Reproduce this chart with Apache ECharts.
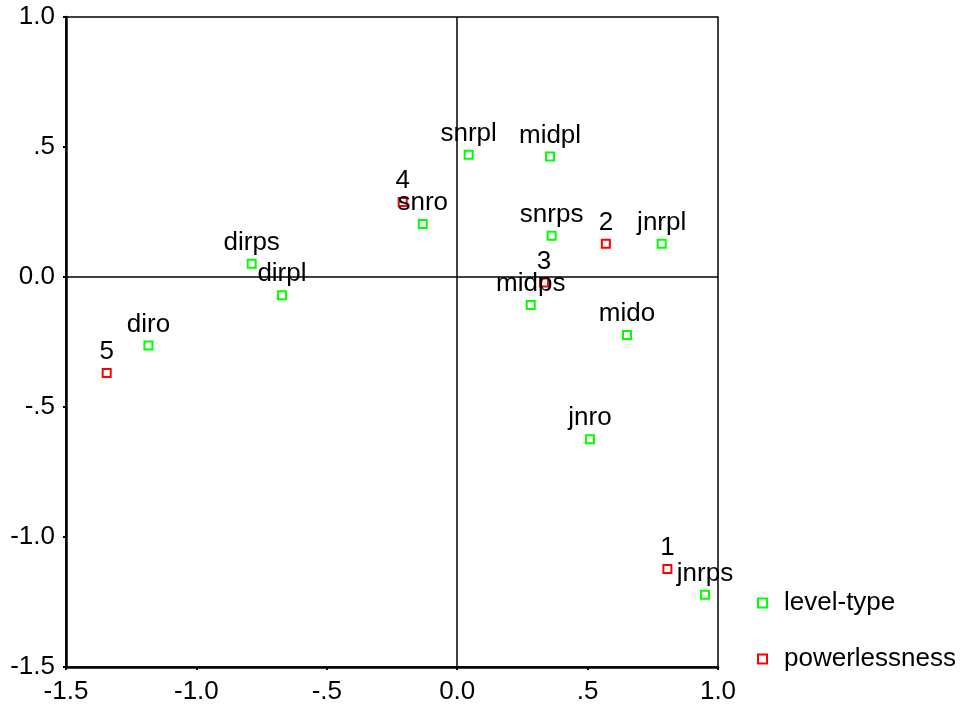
<!DOCTYPE html>
<html><head><meta charset="utf-8">
<script src="https://cdn.jsdelivr.net/npm/echarts@6/dist/echarts.min.js"></script>
<style>html,body{margin:0;padding:0;background:#fff}#c{width:960px;height:708px}</style>
</head><body><div id="c"></div>
<script>
const levelNames = ['snrpl','midpl','snro','snrps','jnrpl','dirps','dirpl','midps','mido','diro','jnro','jnrps'];
const levelX = [0.044, 0.356, -0.132, 0.362, 0.784, -0.788, -0.672, 0.282, 0.651, -1.184, 0.509, 0.950];
const levelY = [0.470, 0.463, 0.204, 0.159, 0.128, 0.051, -0.070, -0.108, -0.223, -0.263, -0.624, -1.222];
const powerNames = ['4','2','3','5','1'];
const powerX = [-0.209, 0.570, 0.333, -1.344, 0.806];
const powerY = [0.288, 0.128, -0.021, -0.369, -1.123];
const tickValues = [-1.5, -1.0, -0.5, 0.0, 0.5, 1.0];
const tickLabels = ['-1.5', '-1.0', '-.5', '0.0', '.5', '1.0'];

function fmt(v){
  const i = tickValues.findIndex(t => Math.abs(t - v) < 1e-6);
  return i >= 0 ? tickLabels[i] : '';
}
const font = 'Liberation Sans, Arial, sans-serif';
const FS = 26;
function mk(names, xs, ys){ return names.map((n,i)=>({name:n, value:[xs[i], ys[i]]})); }
function ser(name, color, data, extra){
  return Object.assign({
    name, type:'scatter', data,
    symbol:'rect', symbolSize:8,
    itemStyle:{color:'rgba(255,255,255,0)', borderColor:color, borderWidth:2, opacity:1},
    label:{show:true, position:'top', distance:3, formatter:p=>p.name, color:'#000', opacity:1, fontSize:FS, fontFamily:font},
    emphasis:{disabled:true}
  }, extra||{});
}
const axisCommon = {
  type:'value', min:-1.5, max:1.0, interval:0.5,
  splitLine:{show:false},
  axisLine:{show:true, onZero:false, lineStyle:{color:'#000', width:2.5}},
  axisTick:{show:true, length:3, lineStyle:{color:'#000', width:2}},
};
const chart = echarts.init(document.getElementById('c'));
chart.setOption({
  animation:false,
  backgroundColor:'#fff',
  grid:{left:66, top:17, width:652, height:650, show:true, borderColor:'#000', borderWidth:1.5, containLabel:false},
  xAxis:Object.assign({}, axisCommon, {position:'bottom',
    axisLabel:{formatter:fmt, color:'#000', fontSize:FS, fontFamily:font, margin:12}}),
  yAxis:Object.assign({}, axisCommon, {position:'left',
    axisLabel:{formatter:fmt, color:'#000', fontSize:FS, fontFamily:font, margin:11}}),
  legend:{orient:'vertical', left:752, top:585, itemGap:30, itemWidth:9, itemHeight:9,
    textStyle:{fontSize:FS, fontFamily:font, color:'#000', padding:[0,0,0,12]},
    data:[{name:'level-type', icon:'rect'},{name:'powerlessness', icon:'rect'}]},
  series:[
    ser('level-type', '#00ff00', mk(levelNames, levelX, levelY), {
      z:3,
      markLine:{silent:true, symbol:['none','none'], label:{show:false},
        lineStyle:{color:'#000', width:1.5, type:'solid'},
        data:[{xAxis:0},{yAxis:0}]}
    }),
    ser('powerlessness', '#ff0000', mk(powerNames, powerX, powerY), {z:2})
  ]
});
</script></body></html>
